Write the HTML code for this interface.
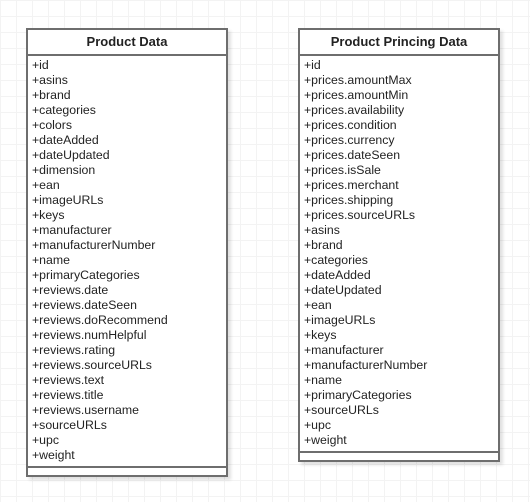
<!DOCTYPE html>
<html><head><style>
body{margin:0;width:530px;height:502px;background:#fff;
background-image:linear-gradient(#f3f3f3 1px,transparent 1px),linear-gradient(90deg,#f3f3f3 1px,transparent 1px);background-size:16px 16px;font-family:"Liberation Sans",sans-serif;position:relative;overflow:hidden}
.box{position:absolute;border:2px solid #6e6e6e;background:#fff;box-shadow:3px 3px 3px rgba(0,0,0,0.12);box-sizing:border-box}
.h{height:24px;border-bottom:2px solid #6e6e6e;font-weight:bold;font-size:13px;text-align:center;line-height:24px;color:#222}
.r{padding:2px 0 0 4px;font-size:12.3px;line-height:15px;color:#222}
.f{position:absolute;left:0;right:0;border-top:2px solid #6e6e6e}
</style></head><body>
<div class="box" style="left:26px;top:28px;width:202px;height:449px">
<div class="h">Product Data</div>
<div class="r">+id<br>+asins<br>+brand<br>+categories<br>+colors<br>+dateAdded<br>+dateUpdated<br>+dimension<br>+ean<br>+imageURLs<br>+keys<br>+manufacturer<br>+manufacturerNumber<br>+name<br>+primaryCategories<br>+reviews.date<br>+reviews.dateSeen<br>+reviews.doRecommend<br>+reviews.numHelpful<br>+reviews.rating<br>+reviews.sourceURLs<br>+reviews.text<br>+reviews.title<br>+reviews.username<br>+sourceURLs<br>+upc<br>+weight</div>
<div class="f" style="top:436px"></div>
</div>
<div class="box" style="left:298px;top:28px;width:202px;height:434px">
<div class="h">Product Princing Data</div>
<div class="r">+id<br>+prices.amountMax<br>+prices.amountMin<br>+prices.availability<br>+prices.condition<br>+prices.currency<br>+prices.dateSeen<br>+prices.isSale<br>+prices.merchant<br>+prices.shipping<br>+prices.sourceURLs<br>+asins<br>+brand<br>+categories<br>+dateAdded<br>+dateUpdated<br>+ean<br>+imageURLs<br>+keys<br>+manufacturer<br>+manufacturerNumber<br>+name<br>+primaryCategories<br>+sourceURLs<br>+upc<br>+weight</div>
<div class="f" style="top:421px"></div>
</div>
</body></html>
